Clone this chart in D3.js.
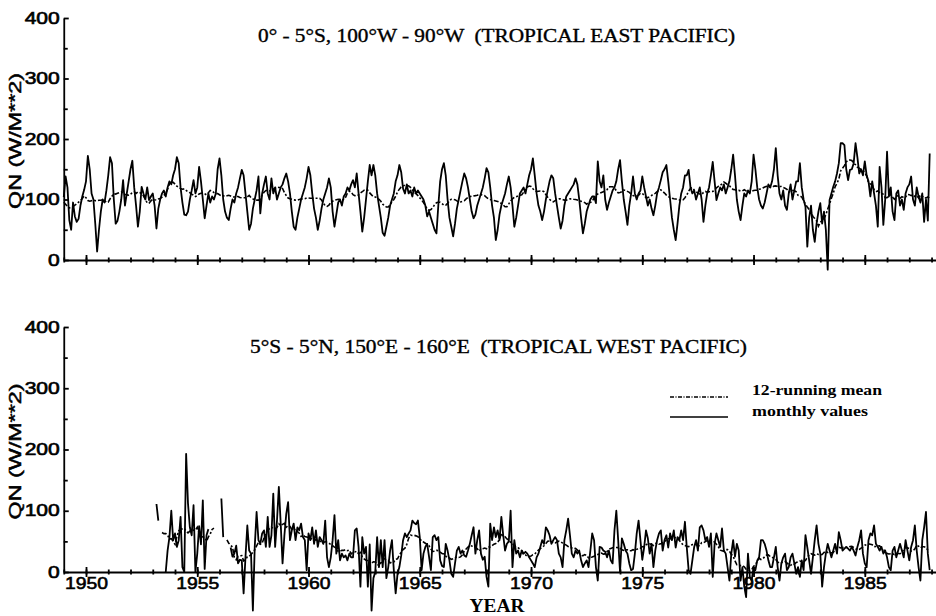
<!DOCTYPE html>
<html>
<head>
<meta charset="utf-8">
<script src="https://cdn.jsdelivr.net/npm/d3@7"></script>
<style>
  body { margin: 0; background: #fff; }
  text { fill: #000; }
</style>
</head>
<body>
<svg id="chart" width="936" height="616"></svg>
<script>
// monthly QN (W/m**2), Jan 1949 .. Dec 1987
var startYear = 1949;

var eastQN = [
  104,138,120,66,50,95,72,63,68,90,105,116,      // 1949
  130,172,150,110,100,60,14,50,80,100,95,115,    // 1950
  140,170,160,100,60,65,80,100,132,90,110,130,   // 1951
  150,164,120,90,55,80,121,110,100,120,99,105,   // 1952
  110,90,52,85,100,110,115,105,120,130,125,140,  // 1953
  150,170,160,120,95,75,74,80,100,115,132,110,   // 1954
  120,154,130,100,69,90,110,95,105,100,110,150,  // 1955
  168,140,100,80,70,66,85,100,95,110,120,135,    // 1956
  149,140,110,80,50,60,85,100,115,138,77,110,    // 1957
  125,138,110,100,135,110,120,100,110,120,125,135, // 1958
  143,130,110,80,55,50,70,85,100,110,120,135,    // 1959
  154,140,110,85,70,50,65,85,100,110,120,135,    // 1960
  120,80,55,75,95,100,90,105,110,120,115,125,    // 1961
  132,120,143,110,80,47,70,100,130,157,140,157,  // 1962
  140,110,90,70,45,40,55,70,90,100,110,130,      // 1963
  140,157,145,118,110,125,110,115,105,120,110,115, // 1964
  110,105,100,90,72,80,70,60,50,44,90,130,       // 1965
  150,160,140,100,70,55,39,60,85,100,115,130,    // 1966
  143,135,120,100,80,69,75,90,100,110,120,135,   // 1967
  152,145,120,90,70,33,50,75,90,100,110,125,     // 1968
  138,120,90,55,70,90,110,115,120,110,125,140,   // 1969
  150,168,140,110,90,80,66,80,100,115,130,140,   // 1970
  135,110,90,70,52,65,90,105,110,115,120,125,    // 1971
  135,125,100,70,44,60,80,90,100,105,105,94,     // 1972
  163,130,120,140,100,83,95,105,115,120,130,150, // 1973
  165,130,100,80,58,90,110,138,110,100,110,115,  // 1974
  138,120,105,90,100,85,74,90,110,120,132,145,   // 1975
  150,157,130,100,70,50,33,60,90,110,120,140,    // 1976
  140,149,120,110,115,100,110,120,100,63,90,110, // 1977
  120,140,162,130,99,110,120,115,125,110,120,130, // 1978
  150,174,140,100,80,66,90,110,105,115,110,130,  // 1979
  174,150,120,100,90,85,95,110,125,120,130,150,  // 1980
  185,140,110,100,115,90,83,110,125,100,115,130, // 1981
  130,160,120,100,88,22,70,90,50,30,60,80,       // 1982
  94,60,80,50,-16,99,110,121,130,143,160,193,    // 1983
  193,190,150,132,149,150,160,193,170,143,150,140, // 1984
  163,140,130,105,130,110,90,55,154,120,58,100,  // 1985
  179,105,120,80,66,110,115,90,100,83,110,120,   // 1986
  125,138,100,90,120,105,95,110,63,100,65,176    // 1987
];

var westQN = [
  null,null,null,null,null,null,null,null,null,null,null,null, // 1949
  null,null,null,null,null,null,null,null,null,null,null,null, // 1950
  null,null,null,null,null,null,null,null,null,null,null,null, // 1951
  null,null,null,null,null,null,null,null,null,null,null,null, // 1952
  null,null,111,84,null,null,null,0,35,57,100,52,              // 1953
  63,41,52,90,8,0,193,112,73,60,109,0,                         // 1954
  30,75,45,117,5,60,70,null,null,null,null,null,               // 1955
  null,120,57,null,null,null,40,25,30,43,14,20,                // 1956
  19,-35,24,76,35,30,-63,41,98,52,46,63,     // 1957
  68,41,90,41,60,128,41,84,139,79,14,60,     // 1958
  95,114,52,68,79,52,73,68,79,57,52,3,       // 1959
  63,52,73,46,68,41,57,52,46,84,24,8,        // 1960
  24,52,93,30,52,19,30,24,27,19,30,24,       // 1961
  24,68,71,41,-24,57,30,41,-24,45,-63,-10,   // 1962
  0,57,8,52,8,52,-10,8,35,52,3,-35,          // 1963
  -3,8,27,52,63,57,63,68,84,80,78,84,        // 1964
  57,3,30,41,46,25,3,57,60,52,57,19,         // 1965
  10,8,46,35,19,-3,-8,14,35,41,30,35,        // 1966
  27,25,35,46,60,73,30,52,68,30,20,25,       // 1967
  -8,-24,79,52,73,57,68,52,90,60,35,46,      // 1968
  50,100,8,52,30,35,24,35,30,33,30,24,       // 1969
  19,14,8,24,30,41,52,46,73,68,60,46,        // 1970
  52,57,52,30,24,8,52,68,87,60,30,24,        // 1971
  35,30,35,19,8,14,19,8,35,63,52,8,          // 1972
  -14,41,40,35,33,24,35,19,14,68,100,52,     // 1973
  0,55,46,35,30,14,3,5,30,63,84,52,          // 1974
  20,40,68,55,30,46,8,35,52,63,68,35,        // 1975
  52,60,40,63,52,68,40,57,52,68,52,82,       // 1976
  40,3,-3,19,41,52,35,73,76,68,52,57,        // 1977
  41,63,-8,46,63,52,41,71,35,30,8,-14,       // 1978
  30,52,25,46,35,-14,8,-24,-41,30,-8,-14,    // 1979
  8,3,19,24,52,52,46,35,19,8,8,24,           // 1980
  41,8,-14,14,24,30,3,8,24,30,14,-3,         // 1981
  8,-8,19,3,60,40,19,-3,24,52,76,46,         // 1982
  30,-24,8,30,46,35,24,35,46,30,65,52,       // 1983
  35,38,41,38,35,41,35,27,41,52,68,30,       // 1984
  14,8,52,63,60,76,46,41,35,41,30,35,        // 1985
  24,8,3,35,41,24,35,46,35,24,52,35,         // 1986
  19,41,52,76,35,8,-14,52,73,98,30,3         // 1987
];

var yearTicks = [1950, 1955, 1960, 1965, 1970, 1975, 1980, 1985];
var qnTicks = [0, 100, 200, 300, 400];
var qnMinorTicks = [50, 150, 250, 350];
var panelTitles = [
  '0° - 5°S, 100°W - 90°W  (TROPICAL EAST PACIFIC)',
  '5°S - 5°N, 150°E - 160°E  (TROPICAL WEST PACIFIC)'
];
var legendLabels = ['12-running mean', 'monthly values'];
var yLabel = 'QN (W/M**2)';
var xLabel = 'YEAR';

var svg = d3.select('#chart');
var sans = 'Arial, "Liberation Sans", Helvetica, sans-serif',
    serif = '"Times New Roman", "Liberation Serif", Times, serif';

var x = d3.scaleLinear().domain([1949, 1988.2]).range([63.75, 936]);

// 12-month running mean, skipping missing months
function runningMean(vals) {
  return vals.map(function (v, i) {
    var w = vals.slice(Math.max(0, i - 6), i + 6).filter(function (d) { return d != null; });
    return w.length >= 6 ? d3.mean(w) : null;
  });
}

function toPoints(vals) {
  return vals.map(function (v, i) { return { t: startYear + i / 12, v: v }; });
}

function stretch(sel, perChar) {
  sel.attr('textLength', function () { return this.textContent.length * perChar; })
    .attr('lengthAdjust', 'spacingAndGlyphs');
}

var panels = [
  { data: eastQN, top: 18, bottom: 260, title: panelTitles[0], titleX: 258, titleY: 42, titleLen: 477, labels: false },
  { data: westQN, top: 327, bottom: 572, title: panelTitles[1], titleX: 250, titleY: 353, titleLen: 497, labels: true }
];

panels.forEach(function (p) {
  var y = d3.scaleLinear().domain([0, 400]).range([p.bottom, p.top]);
  var g = svg.append('g');

  // y axis, ticks pointing inward
  var yAxis = g.append('g')
    .attr('transform', 'translate(' + x.range()[0] + ',0)')
    .call(d3.axisLeft(y).tickValues(qnTicks).tickSizeInner(-5).tickSizeOuter(0).tickPadding(4));
  g.append('g')
    .attr('transform', 'translate(' + x.range()[0] + ',0)')
    .call(d3.axisLeft(y).tickValues(qnMinorTicks).tickSize(-4).tickFormat(''))
    .select('.domain').remove();
  yAxis.selectAll('text')
    .style('font-family', sans).style('font-size', '16px')
    .attr('stroke', '#000').attr('stroke-width', 0.6)
    .call(stretch, 11.7);

  // x axis with crossing ticks
  var xb = g.append('g')
    .attr('transform', 'translate(0,' + p.bottom + ')')
    .call(d3.axisBottom(x).tickValues(yearTicks).tickSize(5).tickSizeOuter(0).tickPadding(0)
      .tickFormat(p.labels ? d3.format('d') : ''));
  g.append('g')
    .attr('transform', 'translate(0,' + p.bottom + ')')
    .call(d3.axisTop(x).tickValues(yearTicks).tickSize(5).tickFormat(''))
    .select('.domain').remove();
  [d3.axisBottom, d3.axisTop].forEach(function (ax) {
    g.append('g')
      .attr('transform', 'translate(0,' + p.bottom + ')')
      .call(ax(x).tickValues(d3.range(1949, 1989)).tickSize(2.5).tickFormat(''))
      .select('.domain').remove();
  });
  xb.selectAll('text')
    .style('font-family', sans).style('font-size', '17px')
    .attr('stroke', '#000').attr('stroke-width', 0.6)
    .call(stretch, 10.75);

  g.selectAll('.domain, .tick line').attr('stroke', '#000').attr('stroke-width', 1.8);

  // y label
  g.append('text')
    .attr('transform', 'translate(21,' + ((p.top + p.bottom) / 2 + 2) + ') rotate(-90)')
    .attr('text-anchor', 'middle')
    .style('font-family', sans).style('font-size', '17px')
    .attr('stroke', '#000').attr('stroke-width', 0.5)
    .attr('textLength', 136).attr('lengthAdjust', 'spacingAndGlyphs')
    .text(yLabel);

  // panel title
  g.append('text')
    .attr('x', p.titleX).attr('y', p.titleY)
    .style('font-family', serif).style('font-size', '18px').style('white-space', 'pre')
    .attr('stroke', '#000').attr('stroke-width', 0.35)
    .attr('textLength', p.titleLen).attr('lengthAdjust', 'spacingAndGlyphs')
    .text(p.title);

  var pts = toPoints(p.data);
  var meanPts = toPoints(runningMean(p.data));
  var line = d3.line()
    .defined(function (d) { return d.v != null; })
    .x(function (d) { return x(d.t); })
    .y(function (d) { return y(d.v); });

  g.append('path')
    .datum(meanPts)
    .attr('fill', 'none').attr('stroke', '#000').attr('stroke-width', 1.6)
    .attr('stroke-dasharray', '5,2,2,2')
    .attr('d', line);

  g.append('path')
    .datum(pts)
    .attr('fill', 'none').attr('stroke', '#000').attr('stroke-width', 1.8)
    .attr('stroke-linejoin', 'round')
    .attr('d', line);
});

// legend
var legend = svg.append('g').attr('transform', 'translate(670,397)');
legendLabels.forEach(function (lab, i) {
  legend.append('line')
    .attr('x1', 0).attr('x2', 58).attr('y1', i * 20).attr('y2', i * 20)
    .attr('stroke', '#000').attr('stroke-width', 1.3)
    .attr('stroke-dasharray', i === 0 ? '4,1.5,1,1.5' : null);
  legend.append('text')
    .attr('x', 82).attr('y', i * 20 - 2 + (i === 1 ? 1 : 0))
    .style('font-family', serif).style('font-size', '15px').style('font-weight', 'bold')
    .attr('textLength', i === 0 ? 130 : 116).attr('lengthAdjust', 'spacingAndGlyphs')
    .text(lab);
});

svg.append('text')
  .attr('x', 497).attr('y', 612)
  .attr('text-anchor', 'middle')
  .style('font-family', serif).style('font-size', '19px').style('font-weight', 'bold')
  .attr('textLength', 55).attr('lengthAdjust', 'spacingAndGlyphs')
  .text(xLabel);
</script>
</body>
</html>
